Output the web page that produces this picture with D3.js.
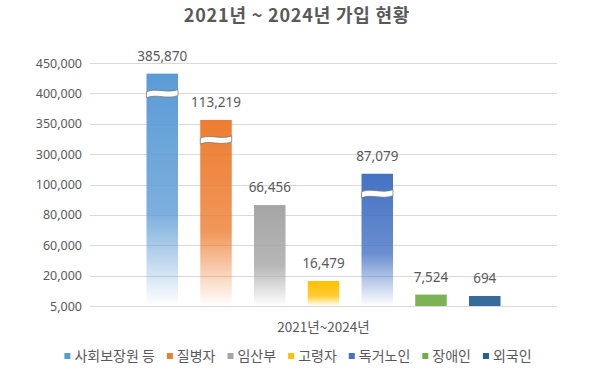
<!DOCTYPE html>
<html><head><meta charset="utf-8">
<script src="https://cdn.jsdelivr.net/npm/d3@7"></script>
<style>
html,body{margin:0;padding:0;background:#fff;}
text{font-family:"Noto Sans CJK KR","Noto Sans",sans-serif;}
</style></head>
<body><svg id="chart" width="600" height="375"></svg>
<script>
const title = "2021년 ~ 2024년 가입 현황";
const category = "2021년~2024년";
const series = ["사회보장원 등","질병자","임산부","고령자","독거노인","장애인","외국인"];
const values = [385870,113219,66456,16479,87079,7524,694];          // label values
const barLevels = [153000,122500,66456,16479,87079,7524,6600];       // bar height on the (broken) axis
const broken = [true,true,false,false,true,false,false];
const colors = ["#5B9BD5","#ED7D31","#A5A5A5","#FFC000","#4472C4","#70AD47","#255E91"];
const tickValues = [0,20000,40000,60000,80000,100000,120000,140000,160000];
const tickLabels = ["5,000","20,000","60,000","80,000","100,000","300,000","350,000","400,000","450,000"];

const svg = d3.select("#chart");
const plot = {left:90, right:557, top:63, bottom:306};

const y = d3.scaleLinear().domain([0,160000]).range([plot.bottom, plot.top]);
const x0 = d3.scaleBand().domain([category]).range([plot.left, plot.right]).paddingInner(0).paddingOuter(0);
const cx = x0(category) + x0.bandwidth()/2;
const x = d3.scaleBand().domain(series).range([cx-177, cx+177]).paddingInner(0.414).paddingOuter(0);

// gradients
const defs = svg.append("defs");
series.forEach((s,i)=>{
  const g = defs.append("linearGradient").attr("id","g"+i).attr("x1",0).attr("y1",0).attr("x2",0).attr("y2",1);
  g.append("stop").attr("offset","0%").attr("stop-color",colors[i]).attr("stop-opacity",1);
  g.append("stop").attr("offset","60%").attr("stop-color",colors[i]).attr("stop-opacity",0.8);
  g.append("stop").attr("offset","100%").attr("stop-color",colors[i]).attr("stop-opacity",0.0);
});

// title
svg.append("text").attr("x",297).attr("y",22).attr("text-anchor","middle")
  .attr("font-size",18).attr("font-weight","bold").attr("letter-spacing",0.8).attr("fill","#595959").text(title);

// gridlines + axis
const yAxis = d3.axisLeft(y).tickValues(tickValues).tickFormat((d,i)=>tickLabels[i]).tickSize(0).tickPadding(8);
const ga = svg.append("g").attr("transform",`translate(${plot.left},0)`).call(yAxis);
ga.select(".domain").remove();
ga.selectAll("text").attr("font-size",12.5).attr("fill","#595959")
  .style("font-family",'"Noto Sans","Noto Sans CJK KR",sans-serif');
svg.append("g").selectAll("line").data(tickValues).join("line")
  .attr("x1",plot.left).attr("x2",plot.right).attr("y1",d=>Math.round(y(d))+0.5).attr("y2",d=>Math.round(y(d))+0.5)
  .attr("stroke","#D9D9D9").attr("stroke-width",1);

// bars
const bars = svg.append("g");
series.forEach((s,i)=>{
  const h = y(0)-y(barLevels[i]);
  const fill = h > 20 ? `url(#g${i})` : colors[i];
  bars.append("rect").attr("x",x(s)).attr("y",y(barLevels[i])).attr("width",x.bandwidth()).attr("height",h)
    .attr("fill",fill).attr("opacity", h>20?1:0.92);
  if (broken[i]) {
    const w = x.bandwidth(), x0b = x(s), yb = y(barLevels[i]) + 17;
    const p = d3.path();
    p.moveTo(x0b, yb+1);
    p.bezierCurveTo(x0b+w*0.35, yb-3, x0b+w*0.6, yb+3, x0b+w, yb-1);
    p.lineTo(x0b+w, yb+5);
    p.bezierCurveTo(x0b+w*0.6, yb+9, x0b+w*0.35, yb+3, x0b, yb+7);
    p.closePath();
    bars.append("path").attr("d",p.toString()).attr("fill","#fff").attr("stroke","#6f6f6f").attr("stroke-width",0.7);
  }
  svg.append("text").attr("x",x(s)+x.bandwidth()/2).attr("y",y(barLevels[i])-13)
    .attr("text-anchor","middle").attr("font-size",13.5).attr("fill","#595959")
    .style("font-family",'"Noto Sans","Noto Sans CJK KR",sans-serif')
    .text(d3.format(",")(values[i]));
});

// category label
svg.append("text").attr("x",cx).attr("y",332).attr("text-anchor","middle")
  .attr("font-size",13.5).attr("fill","#595959").text(category);

// legend
const lg = svg.append("g");
let lx = 0;
series.forEach((s,i)=>{
  const it = lg.append("g");
  it.append("rect").attr("x",0).attr("y",-4).attr("width",6).attr("height",6).attr("fill",colors[i]);
  const t = it.append("text").attr("x",10).attr("y",0).attr("dy","0.32em").attr("font-size",14).attr("fill","#595959").text(s);
  const w = 10 + t.node().getComputedTextLength();
  it.attr("transform",`translate(${lx},0)`);
  lx += w + 12;
});
lx -= 12;
lg.attr("transform",`translate(${298 - lx/2},357)`);
</script></body></html>
